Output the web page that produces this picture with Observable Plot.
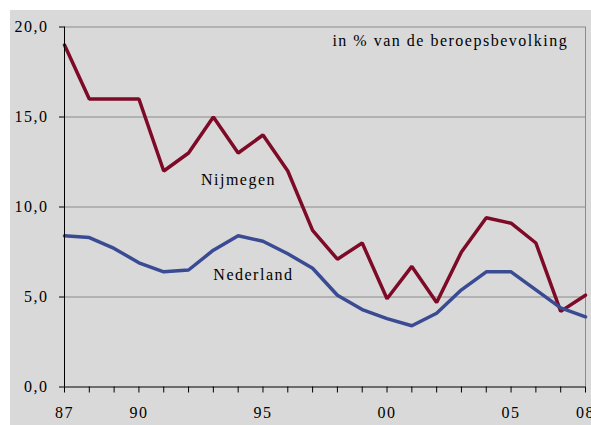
<!DOCTYPE html>
<html>
<head>
<meta charset="utf-8">
<script src="https://cdn.jsdelivr.net/npm/d3@7"></script>
<script src="https://cdn.jsdelivr.net/npm/@observablehq/plot@0.6"></script>
<style>
  html, body { margin: 0; padding: 0; background: #fff; }
  #wrap { position: relative; width: 591px; height: 425px; overflow: hidden; }
  #panel { position: absolute; left: 10px; top: 10px; right: 0; bottom: 0; background: #d9d9d9; }
  #chart { position: absolute; left: 0; top: 0; }
  #chart svg { background: transparent; }
  #chart svg text { font-family: 'Liberation Serif', serif; }
</style>
</head>
<body>
<div id="wrap"><div id="panel"></div><div id="chart"></div></div>
<script>
const years = d3.range(1987, 2009);
const nijmegen = [19.0, 16.0, 16.0, 16.0, 12.0, 13.0, 15.0, 13.0, 14.0, 12.0, 8.7, 7.1, 8.0, 4.9, 6.7, 4.7, 7.5, 9.4, 9.1, 8.0, 4.2, 5.1];
const nederland = [8.4, 8.3, 7.7, 6.9, 6.4, 6.5, 7.6, 8.4, 8.1, 7.4, 6.6, 5.1, 4.3, 3.8, 3.4, 4.1, 5.4, 6.4, 6.4, 5.4, 4.4, 3.9];
const yTicks = [0, 5, 10, 15, 20];
const xLabelYears = [1987, 1990, 1995, 2000, 2005, 2008];
const seriesNames = ["Nijmegen", "Nederland"];
const subtitle = "in % van de beroepsbevolking";

const rows = [];
years.forEach((y, i) => {
  rows.push({year: y, value: nijmegen[i], series: seriesNames[0]});
  rows.push({year: y, value: nederland[i], series: seriesNames[1]});
});

const font = "'Liberation Serif', serif";
const fmtY = d => d.toFixed(1).replace(".", ",");
const fmtX = d => String(d % 100).padStart(2, "0");

const chart = Plot.plot({
  width: 591,
  height: 425,
  marginLeft: 64,
  marginRight: 6,
  marginTop: 26.5,
  marginBottom: 38.5,
  style: {fontFamily: font, fontSize: "16px", color: "#000", background: "transparent", letterSpacing: "1.5px"},
  x: {domain: [1987, 2008], label: null},
  y: {domain: [0, 20], label: null},
  color: {domain: seriesNames, range: ["#7d0a26", "#3a4b94"]},
  marks: [
    Plot.ruleY(yTicks.filter(d => d > 0), {stroke: "#8a8a8a", strokeWidth: 1}),
    Plot.ruleX([2008], {stroke: "#8a8a8a", strokeWidth: 1}),
    Plot.line(rows, {x: "year", y: "value", z: "series", stroke: "series", strokeWidth: 3.5, strokeLinejoin: "miter"}),
    Plot.ruleY([0], {stroke: "#000", strokeWidth: 1}),
    Plot.ruleX([1987], {stroke: "#000", strokeWidth: 1}),
    Plot.axisY({ticks: yTicks, tickSize: 5, tickPadding: 11, tickFormat: fmtY, fontSize: 16, stroke: "#000", label: null}),
    Plot.axisX({ticks: years, tickSize: 6, tickFormat: () => "", stroke: "#000", label: null}),
    Plot.axisX({ticks: xLabelYears, tickSize: 0, tickPadding: 20, tickFormat: fmtX, fontSize: 16, label: null}),
    Plot.text([seriesNames[0]], {x: 1992.5, y: 11.2, text: d => d, textAnchor: "start", lineAnchor: "bottom", fontSize: 16, fill: "#000"}),
    Plot.text([seriesNames[1]], {x: 1993.0, y: 5.92, text: d => d, textAnchor: "start", lineAnchor: "bottom", fontSize: 16, fill: "#000"}),
    Plot.text([subtitle], {x: 2007.3, y: 18.97, text: d => d, textAnchor: "end", lineAnchor: "bottom", fontSize: 16, fill: "#000"})
  ]
});
document.getElementById("chart").appendChild(chart);
</script>
</body>
</html>
